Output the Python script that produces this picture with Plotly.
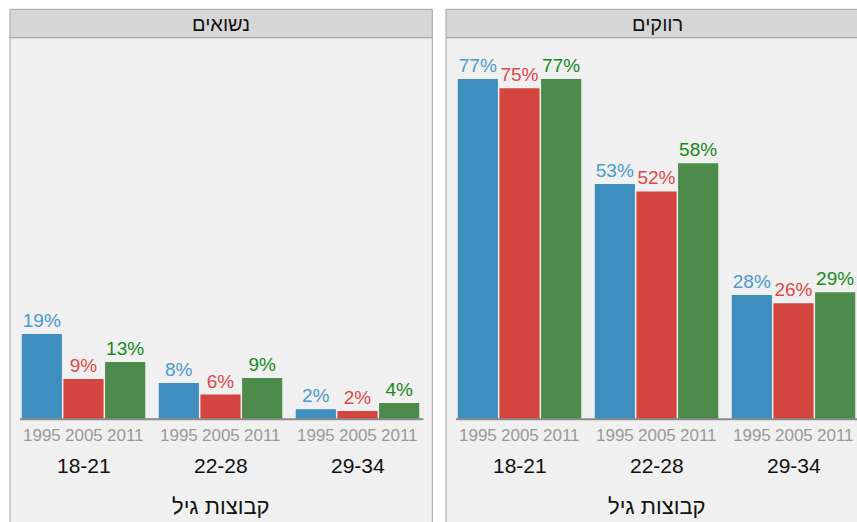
import plotly.graph_objects as go

W, H = 857, 522

age_groups = ["18-21", "22-28", "29-34"]
years = ["1995", "2005", "2011"]
panel_titles = ["נשואים", "רווקים"]
axis_title = "קבוצות גיל"

married_1995 = [19.3, 8.2, 2.3]
married_2005 = [9.1, 5.6, 1.9]
married_2011 = [13.0, 9.35, 3.7]

single_1995 = [77.1, 53.3, 28.15]
single_2005 = [75.0, 51.6, 26.3]
single_2011 = [77.1, 58.0, 28.8]

bar_colors = ["#3e8ebf", "#d5453f", "#4d8b4d"]
label_colors = ["#4b9ad2", "#e04848", "#17891a"]

FONT = "Liberation Sans, Arial, sans-serif"

def px(x):
    return x / W

def py(y):
    return 1 - y / H

fig = go.Figure()

panels = [
    ([married_1995, married_2005, married_2011], "x", "y"),
    ([single_1995, single_2005, single_2011], "x2", "y2"),
]
for series, xa, ya in panels:
    for k, vals in enumerate(series):
        fig.add_trace(go.Bar(
            x=age_groups, y=vals, name=years[k],
            marker=dict(color=bar_colors[k], line=dict(width=0)),
            texttemplate="%{y:.0f}%", textposition="outside",
            textfont=dict(color=label_colors[k], size=19, family=FONT),
            textangle=0, constraintext="none", cliponaxis=False,
            xaxis=xa, yaxis=ya, hoverinfo="skip", showlegend=False,
        ))

base_y = 419.3
top_y = 37.7
scale = 4.415
ymax = (base_y - top_y) / scale
unit = 137.0

left_x0 = 15
right_x0 = 451
fig.update_layout(
    width=W, height=H, margin=dict(l=0, r=0, t=0, b=0),
    paper_bgcolor="white", plot_bgcolor="rgba(0,0,0,0)",
    barmode="group", bargap=12 / 137, bargroupgap=0.036,
    font=dict(family=FONT),
    xaxis=dict(domain=[px(left_x0), px(left_x0 + 3 * unit)], range=[-0.5, 2.5],
               showticklabels=False, showgrid=False, zeroline=False, showline=False, fixedrange=True),
    xaxis2=dict(domain=[px(right_x0), 1], range=[-0.5, -0.5 + (W - right_x0) / unit],
                showticklabels=False, showgrid=False, zeroline=False, showline=False, fixedrange=True),
    yaxis=dict(domain=[py(base_y), py(top_y)], range=[0, ymax], visible=False, fixedrange=True),
    yaxis2=dict(domain=[py(base_y), py(top_y)], range=[0, ymax], visible=False,
                anchor="x2", fixedrange=True),
)

shapes = []
annotations = []
panel_lefts = [10, 446]
panel_rights = [432.3, 432.3 + 436]
for i in range(2):
    l, r = panel_lefts[i], panel_rights[i]
    shapes.append(dict(type="rect", xref="paper", yref="paper", layer="below",
                       x0=px(l), x1=px(r), y0=py(530), y1=py(top_y),
                       fillcolor="#eff0ef", line=dict(color="#a3a3a3", width=1)))
    shapes.append(dict(type="rect", xref="paper", yref="paper", layer="below",
                       x0=px(l), x1=px(r), y0=py(top_y), y1=py(9.3),
                       fillcolor="#d6d6d6", line=dict(color="#a3a3a3", width=1)))
    shapes.append(dict(type="line", xref="paper", yref="paper", layer="above",
                       x0=px(l + 10), x1=px(r - 9), y0=py(base_y), y1=py(base_y),
                       line=dict(color="#8a8a8a", width=2)))
    annotations.append(dict(xref="paper", yref="paper", x=px((l + r) / 2), y=py(23.5),
                            text=panel_titles[i], showarrow=False, xanchor="center", yanchor="middle",
                            font=dict(size=20, color="#111111", family=FONT)))
    annotations.append(dict(xref="paper", yref="paper", x=px((l + r) / 2), y=py(506),
                            text=axis_title, showarrow=False, xanchor="center", yanchor="middle",
                            font=dict(size=22, color="#111111", family=FONT)))
    xa = "x" if i == 0 else "x2"
    step = (125 / 137) / 3
    for g, grp in enumerate(age_groups):
        annotations.append(dict(xref=xa, yref="paper", x=g, y=py(465.5),
                                text=grp, showarrow=False, xanchor="center", yanchor="middle",
                                font=dict(size=21, color="#111111", family=FONT)))
        for k, yr in enumerate(years):
            annotations.append(dict(xref=xa, yref="paper", x=g + (k - 1) * step, y=py(435.7),
                                    text=yr, showarrow=False, xanchor="center", yanchor="middle",
                                    font=dict(size=17, color="#9a9a9a", family=FONT)))

fig.update_layout(shapes=shapes, annotations=annotations)
fig.write_html(
    "out.html",
    config={"displayModeBar": False},
    post_script="document.body.style.margin='0';document.body.style.overflow='hidden';",
)
